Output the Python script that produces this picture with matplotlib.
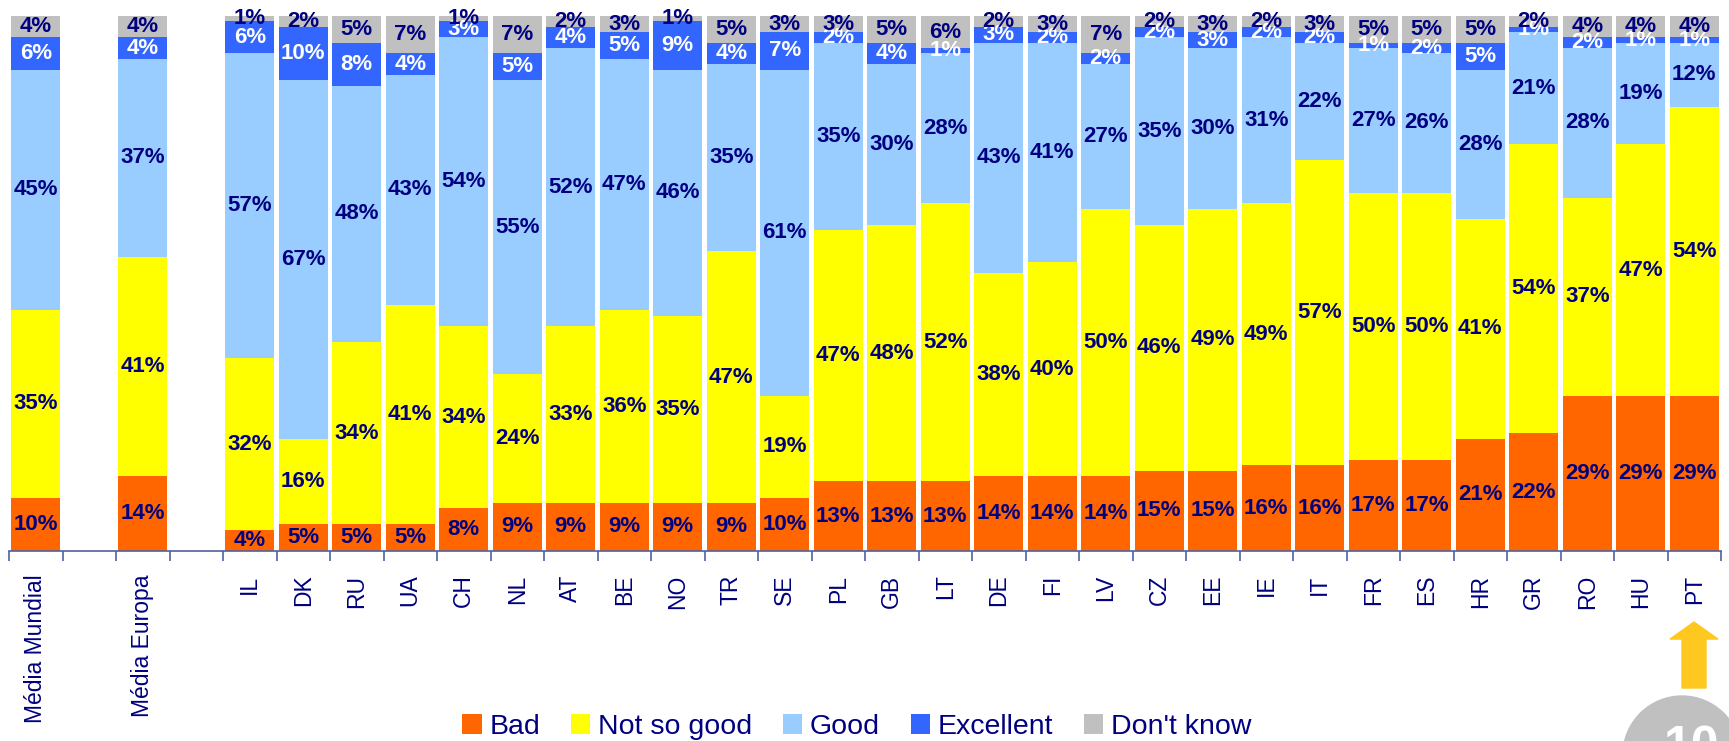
import matplotlib.pyplot as plt
from matplotlib.patches import Circle, FancyArrow

plt.rcParams['font.family'] = ['Liberation Sans', 'DejaVu Sans']

categories = ['Média Mundial', '', 'Média Europa', '',
              'IL', 'DK', 'RU', 'UA', 'CH', 'NL', 'AT', 'BE', 'NO', 'TR',
              'SE', 'PL', 'GB', 'LT', 'DE', 'FI', 'LV', 'CZ', 'EE', 'IE',
              'IT', 'FR', 'ES', 'HR', 'GR', 'RO', 'HU', 'PT']

bad = [10, None, 14, None,
       4, 5, 5, 5, 8, 9, 9, 9, 9, 9, 10, 13, 13, 13, 14, 14, 14, 15, 15, 16,
       16, 17, 17, 21, 22, 29, 29, 29]
not_so_good = [35, None, 41, None,
               32, 16, 34, 41, 34, 24, 33, 36, 35, 47, 19, 47, 48, 52, 38, 40,
               50, 46, 49, 49, 57, 50, 50, 41, 54, 37, 47, 54]
good = [45, None, 37, None,
        57, 67, 48, 43, 54, 55, 52, 47, 46, 35, 61, 35, 30, 28, 43, 41, 27,
        35, 30, 31, 22, 27, 26, 28, 21, 28, 19, 12]
excellent = [6, None, 4, None,
             6, 10, 8, 4, 3, 5, 4, 5, 9, 4, 7, 2, 4, 1, 3, 2, 2, 2, 3, 2, 2,
             1, 2, 5, 1, 2, 1, 1]
dont_know = [4, None, 4, None,
             1, 2, 5, 7, 1, 7, 2, 3, 1, 5, 3, 3, 5, 6, 2, 3, 7, 2, 3, 2, 3,
             5, 5, 5, 2, 4, 4, 4]

series = [('Bad', bad, '#FF6600', '#000080'),
          ('Not so good', not_so_good, '#FFFF00', '#000080'),
          ('Good', good, '#99CCFF', '#000080'),
          ('Excellent', excellent, '#3366FF', 'white'),
          ("Don't know", dont_know, '#C0C0C0', '#000080')]

navy = '#000080'

fig = plt.figure(figsize=(17.29, 7.41), dpi=100)
ax = fig.add_axes([9 / 1729, 1 - 551 / 741, 1712 / 1729, 535 / 741])

x = list(range(len(categories)))
bottoms = [0] * len(categories)
for name, vals, color, tcolor in series:
    xs = [i for i in x if vals[i] is not None]
    hs = [vals[i] for i in xs]
    bs = [bottoms[i] for i in xs]
    ax.bar(xs, hs, bottom=bs, width=0.91, color=color, label=name,
           linewidth=0)
    for i, h, b in zip(xs, hs, bs):
        ax.text(i, b + h / 2, '%d%%' % h, ha='center', va='center',
                fontsize=16, fontweight='bold', color=tcolor)
        bottoms[i] += h

ax.set_xlim(-0.5, len(categories) - 0.5)
ax.set_ylim(0, 100)
for s in ['top', 'right', 'left']:
    ax.spines[s].set_visible(False)
ax.spines['bottom'].set_color('#5060A0')
ax.spines['bottom'].set_linewidth(1.2)
ax.set_yticks([])
ax.set_xticks(x)
ax.set_xticklabels(categories, rotation=90, fontsize=16.5, color=navy)
ax.tick_params(axis='x', which='major', length=0, pad=17)
ax.set_xticks([i - 0.5 for i in range(len(categories) + 1)], minor=True)
ax.tick_params(axis='x', which='minor', length=7, color='#5060A0', width=1.2)

ax.legend(loc='center', bbox_to_anchor=(857 / 1729, 14 / 741),
          bbox_transform=fig.transFigure, ncol=5, frameon=False,
          fontsize=20.5, labelcolor=navy, handlelength=0.67,
          handleheight=0.67, handletextpad=0.28, columnspacing=1.08,
          borderpad=0)

# arrow under PT and page badge
fig.patches.append(FancyArrow(1694 / 1729, 53 / 741, 0, 66 / 741 - 0.0001,
                              width=24 / 1729, head_width=48 / 1729,
                              head_length=17 / 741, length_includes_head=True,
                              color='#FFC820', transform=fig.transFigure))
circ = Circle((1682, -14), 59, color='#C0C0C0', transform=None)
fig.patches.append(circ)
fig.text(1692 / 1729, 16 / 741, '10', ha='center', va='top', fontsize=36,
         fontweight='bold', color='white')

fig.savefig('out.png', dpi=100)
